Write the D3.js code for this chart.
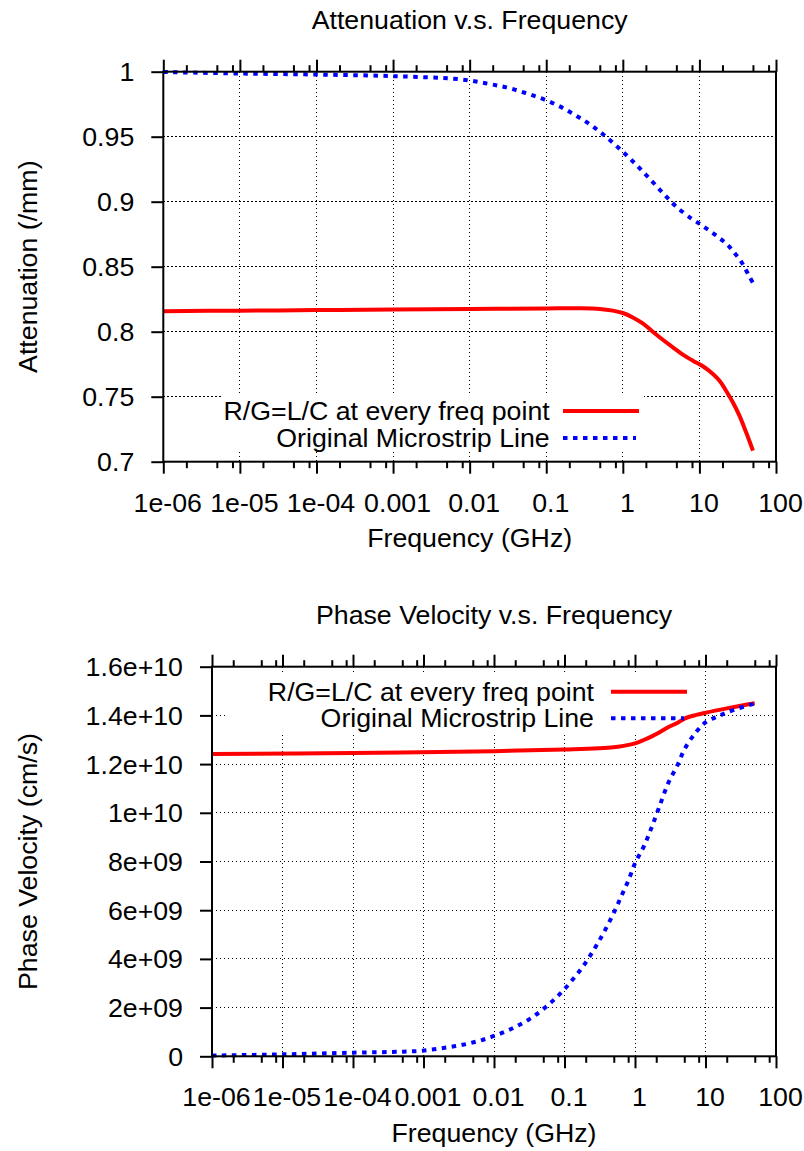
<!DOCTYPE html>
<html><head><meta charset="utf-8">
<script src="https://cdn.jsdelivr.net/npm/d3@7"></script>
<style>
body{margin:0;background:#fff}
svg{display:block}
text{font-family:"Liberation Sans",Arial,Helvetica,sans-serif;font-size:25px;fill:#000}
</style>
</head><body><svg id="c" width="804" height="1151"></svg>
<script>
// ---------- data ----------
const freqTicks = [1e-6, 1e-5, 1e-4, 1e-3, 0.01, 0.1, 1, 10, 100];
const freqTickLabels = ["1e-06", "1e-05", "1e-04", "0.001", "0.01", "0.1", "1", "10", "100"];
const freqMinorMultipliers = [2, 5, 8];

const attTicks = [0.7, 0.75, 0.8, 0.85, 0.9, 0.95, 1];
const attTickLabels = ["0.7", "0.75", "0.8", "0.85", "0.9", "0.95", "1"];
const velTicks = [0, 2e9, 4e9, 6e9, 8e9, 1e10, 1.2e10, 1.4e10, 1.6e10];
const velTickLabels = ["0", "2e+09", "4e+09", "6e+09", "8e+09", "1e+10", "1.2e+10", "1.4e+10", "1.6e+10"];

const seriesNames = ["R/G=L/C at every freq point", "Original Microstrip Line"];
const titles = ["Attenuation v.s. Frequency", "Phase Velocity v.s. Frequency"];
const xTitle = "Frequency (GHz)";
const yTitles = ["Attenuation (/mm)", "Phase Velocity (cm/s)"];

// Attenuation, R/G=L/C
const attRedFreq = [1e-6, 1e-5, 1e-4, 1e-3, 0.01, 0.1, 0.27, 0.5, 0.74, 1, 1.35, 1.82, 2.46, 3.33, 4.5, 6.07, 8.2, 11.1, 15, 18.3, 22.3, 27.3, 33.3, 40.7, 50];
const attRedVal  = [0.8158, 0.8162, 0.8166, 0.817, 0.8175, 0.8179, 0.818, 0.8175, 0.8162, 0.8144, 0.811, 0.8064, 0.80, 0.7938, 0.788, 0.7823, 0.7777, 0.7734, 0.7675, 0.7623, 0.7546, 0.7457, 0.7354, 0.7226, 0.7085];
// Attenuation, original line
const attBlueFreq = [1e-6, 1e-5, 1e-4, 1e-3, 0.0076, 0.0172, 0.0302, 0.0524, 0.0891, 0.15, 0.247, 0.40, 0.624, 0.956, 1.45, 2.17, 3.31, 4.9, 7.8, 10, 12.8, 16.3, 20.5, 24.8, 29.3, 34.8, 39.6, 44.6, 49.9];
const attBlueVal  = [0.9998, 0.9986, 0.9978, 0.9966, 0.9941, 0.9908, 0.9879, 0.9838, 0.9792, 0.9733, 0.9661, 0.9582, 0.9492, 0.9395, 0.9292, 0.9185, 0.9069, 0.8966, 0.8872, 0.8831, 0.8787, 0.8743, 0.8697, 0.8651, 0.86, 0.8543, 0.8485, 0.8428, 0.8377];

// Phase velocity, R/G=L/C
const velRedFreq = [1e-6, 1e-4, 0.01, 0.1, 0.496, 0.717, 1, 1.33, 1.7, 2.17, 2.95, 4.02, 5.14, 7.43, 10, 20, 50];
const velRedVal  = [1.241e10, 1.246e10, 1.253e10, 1.26e10, 1.269e10, 1.276e10, 1.285e10, 1.299e10, 1.313e10, 1.329e10, 1.351e10, 1.370e10, 1.388e10, 1.402e10, 1.411e10, 1.429e10, 1.45e10];
// Phase velocity, original line
const velBlueFreq = [1e-6, 1e-5, 1e-4, 5.1e-4, 9.6e-4, 1.79e-3, 3.3e-3, 6.07e-3, 0.0108, 0.0192, 0.0331, 0.054, 0.0854, 0.129, 0.189, 0.265, 0.36, 0.496, 0.634, 0.811, 1, 1.33, 1.7, 2.17, 2.95, 4.01, 5.13, 7.42, 10.1, 15.5, 25.3, 50];
const velBlueVal  = [3e7, 8e7, 1.5e8, 1.9e8, 2.3e8, 3.3e8, 4.5e8, 6.3e8, 8.7e8, 1.18e9, 1.56e9, 2.02e9, 2.55e9, 3.13e9, 3.75e9, 4.41e9, 5.08e9, 5.87e9, 6.55e9, 7.24e9, 7.93e9, 8.61e9, 9.36e9, 1.018e10, 1.121e10, 1.196e10, 1.265e10, 1.333e10, 1.372e10, 1.398e10, 1.423e10, 1.449e10];

// ---------- drawing ----------
const SX = 1.07;
const RED = "#ff0000", BLUE = "#0000ff";
const svg = d3.select("#c");

function label(g, x, y, s, anchor, rot) {
  return g.append("text")
    .attr("transform", `translate(${x},${y})${rot ? " rotate(-90)" : ""} scale(${SX},1)`)
    .attr("text-anchor", anchor)
    .text(s);
}

const panels = [
  {left: 163.3, right: 776, top: 71.7, bottom: 461.7, yDomain: [0.7, 1], yTicks: attTicks, yLabels: attTickLabels,
   title: titles[0], yTitle: yTitles[0],
   red: d3.zip(attRedFreq, attRedVal), blue: d3.zip(attBlueFreq, attBlueVal),
   legBox: [221.5, 396, 644, 452], legTextX: 549.7, legY: [411, 438], legLine: [563, 639]},
  {left: 212, right: 776, top: 666.7, bottom: 1056.3, yDomain: [0, 1.6e10], yTicks: velTicks, yLabels: velTickLabels,
   title: titles[1], yTitle: yTitles[1],
   red: d3.zip(velRedFreq, velRedVal), blue: d3.zip(velBlueFreq, velBlueVal),
   legBox: [228, 673, 693, 732], legTextX: 594, legY: [691.7, 718.3], legLine: [611, 687]}
];

const minorTicks = [];
freqTicks.slice(0, -1).forEach(d => freqMinorMultipliers.forEach(m => minorTicks.push(d * m)));

panels.forEach(p => {
  const g = svg.append("g");
  const x = d3.scaleLog().domain([1e-6, 100]).range([p.left, p.right]);
  const y = d3.scaleLinear().domain(p.yDomain).range([p.bottom, p.top]);

  // grid
  const grid = g.append("g").attr("stroke", "#000").attr("stroke-width", 1)
    .attr("stroke-dasharray", "1.3,2.7").attr("shape-rendering", "crispEdges");
  grid.selectAll(".gx").data(freqTicks.slice(1, -1)).join("line")
    .attr("x1", d => x(d)).attr("x2", d => x(d)).attr("y1", p.top).attr("y2", p.bottom);
  grid.selectAll(".gy").data(p.yTicks.slice(1, -1)).join("line")
    .attr("x1", p.left).attr("x2", p.right).attr("y1", d => y(d)).attr("y2", d => y(d));

  // legend background (hides grid)
  g.append("rect").attr("x", p.legBox[0]).attr("y", p.legBox[1])
    .attr("width", p.legBox[2] - p.legBox[0]).attr("height", p.legBox[3] - p.legBox[1])
    .attr("fill", "#fff");

  // axes
  const fixAxis = sel => { sel.select(".domain").remove(); sel.selectAll("line").attr("stroke", "#000").attr("stroke-width", 2); };
  const bottomMaj = g.append("g").attr("transform", `translate(0,${p.bottom})`)
    .call(d3.axisBottom(x).tickValues(freqTicks).tickFormat((d, i) => freqTickLabels[i]).tickSize(12).tickSizeOuter(0));
  fixAxis(bottomMaj);
  bottomMaj.selectAll("text").attr("y", 0).attr("dy", 0).attr("transform", `translate(4,50) scale(${SX},1)`);
  const bottomMin = g.append("g").attr("transform", `translate(0,${p.bottom})`)
    .call(d3.axisBottom(x).tickValues(minorTicks).tickFormat("").tickSize(6.5).tickSizeOuter(0));
  fixAxis(bottomMin);
  const topMaj = g.append("g").attr("transform", `translate(0,${p.top})`)
    .call(d3.axisTop(x).tickValues(freqTicks).tickFormat("").tickSize(12).tickSizeOuter(0));
  fixAxis(topMaj);
  const topMin = g.append("g").attr("transform", `translate(0,${p.top})`)
    .call(d3.axisTop(x).tickValues(minorTicks).tickFormat("").tickSize(6.5).tickSizeOuter(0));
  fixAxis(topMin);
  const leftAx = g.append("g").attr("transform", `translate(${p.left},0)`)
    .call(d3.axisLeft(y).tickValues(p.yTicks).tickFormat((d, i) => p.yLabels[i]).tickSize(12).tickSizeOuter(0));
  fixAxis(leftAx);
  leftAx.selectAll("text").attr("x", 0).attr("dy", 0).attr("text-anchor", "end")
    .attr("transform", `translate(-29,9) scale(${SX},1)`);

  // curves
  const line = d3.line().x(d => x(d[0])).y(d => y(d[1])).curve(d3.curveCatmullRom.alpha(0.5));
  g.append("path").datum(p.red).attr("d", line).attr("fill", "none")
    .attr("stroke", RED).attr("stroke-width", 4).attr("stroke-linejoin", "round");
  g.append("path").datum(p.blue).attr("d", line).attr("fill", "none")
    .attr("stroke", BLUE).attr("stroke-width", 4).attr("stroke-dasharray", "4.5,5.5");

  // border
  g.append("rect").attr("x", p.left).attr("y", p.top)
    .attr("width", p.right - p.left).attr("height", p.bottom - p.top)
    .attr("fill", "none").attr("stroke", "#000").attr("stroke-width", 2);

  // legend
  const cols = [RED, BLUE];
  seriesNames.forEach((name, i) => {
    label(g, p.legTextX, p.legY[i] + 9, name, "end");
    g.append("line").attr("x1", p.legLine[0]).attr("x2", i ? p.legLine[1] - 3 : p.legLine[1])
      .attr("y1", p.legY[i]).attr("y2", p.legY[i])
      .attr("stroke", cols[i]).attr("stroke-width", 4)
      .attr("stroke-dasharray", i ? "4.5,5.5" : null);
  });

  // titles
  const cx = (p.left + p.right) / 2;
  label(g, cx, p.top - 42.4, p.title, "middle");
  label(g, cx, p.bottom + 85.6, xTitle, "middle");
  label(g, 36.5, (p.top + p.bottom) / 2, p.yTitle, "middle", true);
});
</script>
</body></html>
